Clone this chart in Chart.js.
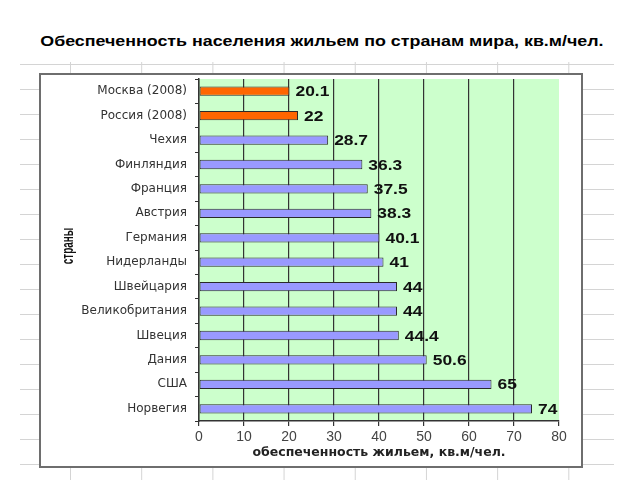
<!DOCTYPE html>
<html>
<head>
<meta charset="utf-8">
<script src="https://cdn.jsdelivr.net/npm/chart.js@4.4.0/dist/chart.umd.min.js"></script>
<style>
  body { margin: 0; width: 640px; height: 480px; position: relative; background: #fff; overflow: hidden; font-family: "Liberation Sans", Arial, sans-serif; }
  #sheet {
    position: absolute; left: 20px; top: 62px; width: 594px; height: 418px;
    background-image: linear-gradient(to right, #d4d4d4 1px, transparent 1px),
                      linear-gradient(to bottom, #d4d4d4 1px, transparent 1px);
    background-size: 71.2px 100%, 100% 25px;
    background-position: 50px 0, 0 2px;
  }
  #box { position: absolute; left: 39px; top: 73px; width: 540px; height: 391px; border: 2px solid #6e6e6e; background: #fff; }
  #title { position: absolute; left: 0; top: 32px; width: 640px; text-align: center; font-weight: bold; font-size: 15.5px; color: #000; }
  #title span { display: inline-block; transform: scaleX(1.15); margin-left: 4px; }
  #chart { position: absolute; left: 0; top: 0; }
</style>
</head>
<body>
<div id="sheet"></div>
<div id="box"></div>
<div id="title"><span>Обеспеченность населения жильем по странам мира, кв.м/чел.</span></div>
<canvas id="chart" width="640" height="480"></canvas>
<script>
const strany = ['Москва (2008)', 'Россия (2008)', 'Чехия', 'Финляндия', 'Франция', 'Австрия', 'Германия',
    'Нидерланды', 'Швейцария', 'Великобритания', 'Швеция', 'Дания', 'США', 'Норвегия'];
const ploshad = [20.1, 22, 28.7, 36.3, 37.5, 38.3, 40.1, 41, 44, 44, 44.4, 50.6, 65, 74];
const vydeleno = ['Москва (2008)', 'Россия (2008)'];
const xTicks = [0, 10, 20, 30, 40, 50, 60, 70, 80];
const yTitolo = 'страны';

const colori = strany.map(s => vydeleno.includes(s) ? '#ff6600' : '#9999ff');

const sfondoVerde = {
    id: 'sfondoVerde',
    beforeDraw(chart) {
        const a = chart.chartArea;
        const ctx = chart.ctx;
        ctx.save();
        ctx.fillStyle = '#ccffcc';
        ctx.fillRect(a.left, a.top, a.right - a.left, a.bottom - a.top);
        ctx.restore();
    }
};

// valori accanto alle barre + titolo asse y (testo un po' "stirato" come nel quadro)
const etichette = {
    id: 'etichette',
    afterDatasetsDraw(chart) {
        const ctx = chart.ctx;
        const meta = chart.getDatasetMeta(0);
        ctx.save();
        ctx.font = 'bold 15px "Liberation Sans", Arial, sans-serif';
        ctx.fillStyle = '#111';
        ctx.textAlign = 'left';
        ctx.textBaseline = 'middle';
        meta.data.forEach((bar, i) => {
            ctx.save();
            ctx.translate(bar.x + 6, bar.y + 1);
            ctx.scale(1.16, 1);
            ctx.fillText(String(ploshad[i]), 0, 0);
            ctx.restore();
        });
        const a = chart.chartArea;
        ctx.translate(69, (a.top + a.bottom) / 2 - 4);
        ctx.rotate(-Math.PI / 2);
        ctx.scale(0.62, 1);
        ctx.textAlign = 'center';
        ctx.font = 'bold 16px "Liberation Sans", Arial, sans-serif';
        ctx.fillText(yTitolo, 0, 0);
        ctx.restore();
    }
};

new Chart(document.getElementById('chart'), {
    type: 'bar',
    data: {
        labels: strany,
        datasets: [{
            data: ploshad,
            backgroundColor: colori,
            borderColor: '#2a2a2a',
            borderWidth: 1,
            borderSkipped: false,
            categoryPercentage: 1,
            barPercentage: 0.38
        }]
    },
    options: {
        indexAxis: 'y',
        responsive: false,
        animation: false,
        layout: { padding: { left: 40, right: 81, top: 79, bottom: 12 } },
        plugins: {
            legend: { display: false },
            tooltip: { enabled: false }
        },
        scales: {
            x: {
                min: 0,
                max: 80,
                afterFit: s => { s.height = 47; },
                afterBuildTicks: s => { s.ticks = xTicks.map(v => ({ value: v })); },
                ticks: {
                    padding: 3,
                    color: '#444',
                    font: { family: '"Liberation Sans", Arial, sans-serif', size: 14 }
                },
                grid: {
                    color: c => (c.tick && c.tick.value === 80) ? 'rgba(0,0,0,0)' : '#333',
                    lineWidth: 1.2,
                    tickLength: 5,
                    tickColor: '#333'
                },
                border: { color: '#333', width: 1.5 },
                title: {
                    display: true,
                    text: 'обеспеченность жильем, кв.м/чел.',
                    color: '#222',
                    font: { family: '"DejaVu Sans", sans-serif', size: 12.5, weight: 'bold' },
                    padding: { top: 0, bottom: 8 }
                }
            },
            y: {
                afterFit: s => { s.width = 159; },
                ticks: {
                    padding: 8,
                    color: '#333',
                    font: { family: '"DejaVu Sans", sans-serif', size: 12 }
                },
                grid: {
                    drawOnChartArea: false,
                    tickLength: 4,
                    color: '#333'
                },
                border: { color: '#333', width: 1.5 }
            }
        }
    },
    plugins: [sfondoVerde, etichette]
});
</script>
</body>
</html>
